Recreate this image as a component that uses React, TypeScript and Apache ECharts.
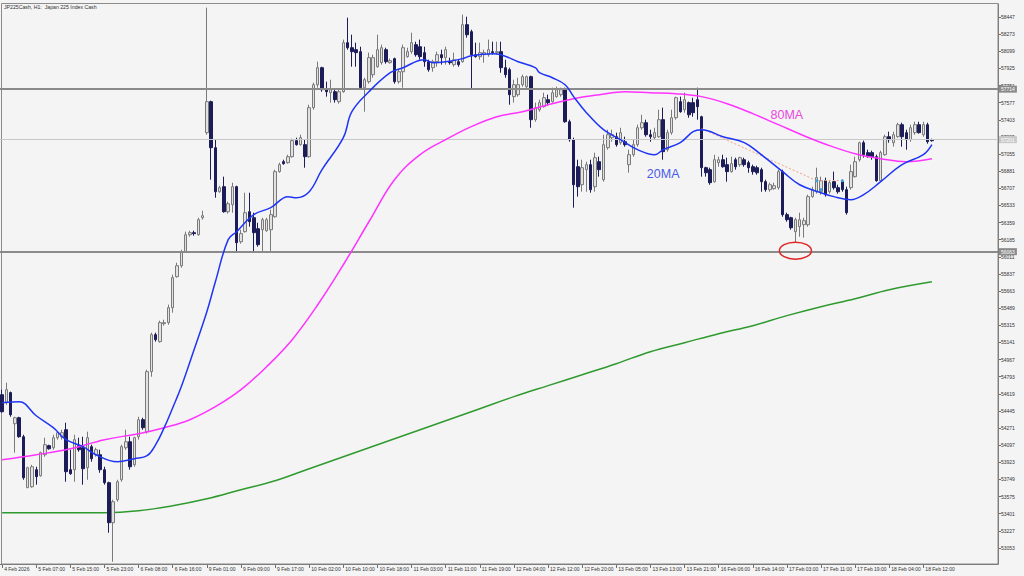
import React, { useEffect, useRef } from "react";
import * as echarts from "echarts";

const TITLE = "JP225Cash, H1:  Japan 225 Index Cash";

// x-axis tick labels, one every 8 hourly bars starting at bar 0
const tickLabels = [
  "4 Feb 2026", "5 Feb 07:00", "5 Feb 15:00", "5 Feb 23:00", "6 Feb 08:00", "6 Feb 16:00",
  "9 Feb 01:00", "9 Feb 09:00", "9 Feb 17:00", "10 Feb 02:00", "10 Feb 10:00", "10 Feb 18:00",
  "11 Feb 03:00", "11 Feb 11:00", "11 Feb 19:00", "12 Feb 04:00", "12 Feb 12:00", "12 Feb 20:00",
  "13 Feb 05:00", "13 Feb 13:00", "13 Feb 21:00", "16 Feb 06:00", "16 Feb 14:00", "17 Feb 03:00",
  "17 Feb 11:00", "17 Feb 19:00", "18 Feb 04:00", "18 Feb 12:00",
];
const TICK_EVERY = 8;
const EMPTY_BARS = 15;

// price-axis tick labels
const yTickValues = [
  53053, 53227, 53401, 53575, 53749, 53923, 54097, 54271, 54445, 54619, 54793, 54967,
  55141, 55315, 55489, 55663, 55837, 56011, 56185, 56359, 56533, 56707, 56881, 57055,
  57229, 57403, 57577, 57751, 57925, 58099, 58273, 58447,
];
const Y_MIN = 52890;
const Y_MAX = 58579;

// horizontal levels
const levelsDark = [57714, 56063];
const levelsLight = [57201];

// hourly candles: [open, close, low, high]
const candles = [
  [54610, 54437, 54427, 54661], [54529, 54661, 54508, 54732], [54631, 54406, 54386, 54641],
  [54315, 54376, 54021, 54386], [54376, 54183, 54173, 54386], [54183, 53767, 53746, 54203],
  [53665, 53868, 53665, 53878], [53675, 53878, 53665, 53898], [53848, 53777, 53696, 53878],
  [53787, 54021, 53777, 54031], [54000, 54102, 53980, 54173], [54092, 54061, 54051, 54102],
  [54071, 54173, 54051, 54203], [54173, 54224, 54153, 54234], [54183, 54224, 54153, 54254],
  [54254, 53828, 53726, 54325], [53848, 53807, 53797, 54051], [53848, 54153, 53726, 54203],
  [54092, 54051, 54031, 54173], [54071, 53858, 53696, 54183], [53868, 54173, 53746, 54234],
  [54082, 53960, 53929, 54102], [54000, 54051, 53980, 54071], [54000, 53848, 53817, 54051],
  [53848, 53716, 53696, 53878], [53716, 53310, 53208, 53726], [53310, 53523, 52913, 53543],
  [53543, 53726, 53523, 53746], [53746, 54082, 53726, 54102], [54071, 54132, 54051, 54254],
  [54132, 53878, 53848, 54183], [53898, 54173, 53878, 54183], [54183, 54356, 54153, 54386],
  [54356, 54275, 54254, 54376], [54234, 54844, 54214, 54864], [54844, 55220, 54793, 55240],
  [55220, 55169, 55149, 55240], [55149, 55342, 55139, 55362], [55332, 55342, 55311, 55372],
  [55342, 55494, 55321, 55525], [55494, 55799, 55443, 55829], [55809, 55920, 55799, 55951],
  [55920, 56063, 55900, 56083], [56063, 56235, 56053, 56266], [56235, 56256, 56215, 56276],
  [56256, 56246, 56225, 56276], [56235, 56388, 56225, 56408], [56408, 56428, 56388, 56479],
  [57272, 57587, 57251, 58542], [57587, 57119, 56794, 57597], [57119, 56672, 56611, 57201],
  [56672, 56713, 56662, 56733], [56723, 56469, 56459, 56825], [56469, 56550, 56449, 56571],
  [56540, 56723, 56459, 56764], [56723, 56154, 56063, 56733], [56164, 56246, 56144, 56286],
  [56266, 56459, 56256, 56662], [56469, 56367, 56317, 56662], [56408, 56256, 56053, 56459],
  [56296, 56134, 56114, 56357], [56286, 56388, 56053, 56408], [56276, 56388, 56266, 56408],
  [56286, 56439, 56053, 56489], [56418, 56876, 56408, 56896], [56876, 56947, 56865, 56967],
  [56977, 56957, 56947, 56997], [56967, 57028, 56957, 57048], [57028, 57191, 57018, 57211],
  [57191, 57150, 57140, 57221], [57150, 57221, 57140, 57251], [57150, 57028, 56916, 57201],
  [57028, 57526, 57018, 57556], [57526, 57759, 57505, 57780], [57759, 57932, 57729, 57993],
  [57932, 57709, 57688, 57942], [57709, 57688, 57638, 57790], [57678, 57709, 57577, 57810],
  [57688, 57607, 57577, 57709], [57587, 57688, 57566, 57709], [57688, 58186, 57678, 58217],
  [58186, 58135, 58115, 58440], [58135, 58095, 57942, 58267], [58115, 58085, 57942, 58186],
  [58095, 57729, 57709, 58145], [57729, 57810, 57485, 57830], [57790, 58034, 57770, 58085],
  [57861, 58034, 57830, 58064], [57942, 58115, 57932, 58267], [57983, 58135, 57963, 58166],
  [58115, 57993, 57973, 58135], [57983, 58003, 57973, 58024], [58024, 57790, 57770, 58034],
  [57790, 57891, 57770, 57912], [57891, 58135, 57729, 58166], [58044, 58095, 58034, 58135],
  [58095, 58186, 58074, 58288], [58166, 58064, 58044, 58196], [58145, 58044, 58013, 58217],
  [58085, 57993, 57942, 58145], [57993, 57912, 57891, 58013], [57932, 57993, 57891, 58013],
  [57993, 58064, 57942, 58095], [58064, 58034, 57963, 58115], [58034, 58115, 57963, 58145],
  [57993, 57983, 57963, 58034], [57963, 58013, 57942, 58085], [57993, 57963, 57942, 58013],
  [57993, 58369, 57983, 58471], [58369, 58267, 58237, 58450], [58298, 58064, 57709, 58318],
  [58064, 58044, 58034, 58186], [58044, 58085, 58013, 58186], [58064, 58085, 57983, 58115],
  [58064, 58115, 58044, 58217], [58095, 58085, 58064, 58196], [58085, 58095, 58064, 58196],
  [58095, 57932, 57881, 58196], [57932, 57861, 57830, 58013], [57912, 57658, 57556, 57932],
  [57638, 57759, 57577, 57810], [57658, 57759, 57638, 57830], [57759, 57841, 57739, 57861],
  [57739, 57841, 57709, 57851], [57841, 57404, 57322, 57851], [57404, 57526, 57383, 57577],
  [57505, 57577, 57485, 57607], [57536, 57627, 57526, 57678], [57607, 57577, 57546, 57658],
  [57587, 57678, 57577, 57729], [57638, 57709, 57627, 57739], [57658, 57709, 57638, 57729],
  [57709, 57383, 57373, 57729], [57383, 57201, 57180, 57404], [57201, 56743, 56510, 57221],
  [56926, 56723, 56622, 56997], [56743, 56916, 56672, 56997], [56896, 56947, 56672, 56977],
  [56947, 56693, 56662, 56997], [56723, 57018, 56672, 57069], [56977, 56896, 56825, 57028],
  [56794, 57150, 56774, 57251], [57119, 57251, 57099, 57302], [57221, 57251, 57180, 57302],
  [57231, 57150, 57130, 57272], [57170, 57272, 57150, 57322], [57180, 57150, 57130, 57231],
  [56947, 57048, 56865, 57099], [57048, 57150, 57028, 57201], [57150, 57322, 57130, 57353],
  [57322, 57373, 57302, 57454], [57373, 57251, 57231, 57404], [57251, 57231, 57180, 57302],
  [57221, 57272, 57201, 57322], [57231, 57404, 57221, 57505], [57404, 57079, 56997, 57526],
  [57099, 57272, 57079, 57302], [57272, 57424, 57251, 57505], [57424, 57627, 57404, 57638],
  [57587, 57485, 57475, 57638], [57505, 57607, 57475, 57678], [57577, 57454, 57424, 57587],
  [57577, 57475, 57434, 57627], [57607, 57536, 57404, 57729], [57434, 56916, 56825, 57444],
  [56916, 56865, 56825, 56926], [56896, 56764, 56743, 56916], [56774, 56997, 56764, 57048],
  [56967, 56997, 56926, 57028], [56997, 56926, 56916, 57048], [56947, 56876, 56774, 57018],
  [56876, 56957, 56865, 57028], [56997, 56926, 56896, 57018], [56947, 57018, 56926, 57028],
  [56997, 56947, 56926, 57018], [56967, 56916, 56865, 56987], [56926, 56876, 56845, 56947],
  [56916, 56865, 56845, 56936], [56896, 56774, 56672, 56916], [56774, 56693, 56672, 56794],
  [56693, 56743, 56672, 56764], [56703, 56733, 56693, 56764], [56713, 56876, 56693, 56896],
  [56876, 56439, 56418, 56896], [56439, 56388, 56367, 56459], [56408, 56306, 56286, 56418],
  [56266, 56388, 56154, 56408], [56317, 56388, 56215, 56459], [56337, 56378, 56205, 56408],
  [56337, 56622, 56317, 56642], [56622, 56693, 56611, 56723], [56672, 56815, 56652, 56916],
  [56672, 56784, 56642, 56825], [56784, 56642, 56622, 56815], [56672, 56764, 56652, 56784],
  [56774, 56713, 56693, 56876], [56713, 56672, 56652, 56743], [56774, 56693, 56672, 56794],
  [56693, 56459, 56439, 56723], [56713, 56876, 56693, 56947], [56825, 56977, 56815, 57028],
  [56997, 57170, 56977, 57180], [57170, 57048, 57018, 57191], [57069, 57028, 57018, 57099],
  [57069, 57028, 56997, 57089], [57028, 56784, 56774, 57048], [56784, 57069, 56774, 57089],
  [57048, 57231, 57038, 57251], [57231, 57201, 57170, 57282], [57170, 57251, 57130, 57282],
  [57231, 57353, 57221, 57373], [57353, 57231, 57130, 57373], [57272, 57201, 57099, 57302],
  [57201, 57322, 57180, 57353], [57272, 57353, 57251, 57383], [57353, 57272, 57262, 57383],
  [57251, 57353, 57231, 57383], [57353, 57180, 57160, 57373], [57201, 57191, 57180, 57211],
];

// moving averages read at sample bars: [bar index, value]
const ma20 = [
  [0, 54529], [4, 54539], [8, 54396], [12, 54275], [15, 54153], [19, 54082], [22, 54000],
  [27, 53929], [31, 53960], [34, 53990], [36, 54102], [38, 54275], [40, 54478], [42, 54691],
  [45, 55067], [48, 55453], [50, 55758], [53, 56185], [55, 56266], [59, 56439], [63, 56510],
  [67, 56622], [69, 56611], [72, 56672], [75, 56896], [80, 57221], [82, 57485], [86, 57688],
  [91, 57881], [94, 57932], [99, 58013], [101, 57983], [104, 57993], [108, 58024], [110, 58054],
  [115, 58074], [117, 58064], [121, 57993], [125, 57932], [126, 57881], [129, 57830],
  [132, 57759], [134, 57638], [137, 57475], [141, 57302], [145, 57201], [149, 57099],
  [153, 57048], [155, 57099], [159, 57170], [162, 57282], [164, 57302], [169, 57231],
  [174, 57170], [178, 57048], [183, 56876], [187, 56743], [192, 56662], [195, 56622],
  [199, 56591], [202, 56642], [206, 56774], [211, 56947], [216, 57048], [218, 57150],
];
const ma80 = [
  [0, 53949], [8, 54000], [16, 54061], [24, 54153], [32, 54214], [38, 54275], [44, 54356],
  [50, 54488], [56, 54661], [62, 54894], [68, 55169], [74, 55524], [80, 55930], [86, 56367],
  [92, 56794], [98, 57048], [104, 57201], [110, 57333], [116, 57434], [122, 57485],
  [128, 57556], [134, 57617], [140, 57658], [146, 57688], [152, 57678], [158, 57668],
  [164, 57638], [170, 57566], [176, 57465], [182, 57353], [188, 57241], [194, 57140],
  [200, 57058], [206, 57008], [212, 56977], [218, 57008],
];
const ma200 = [
  [0, 53411], [24, 53411], [32, 53431], [40, 53482], [48, 53553], [56, 53645], [64, 53736],
  [72, 53858], [80, 53980], [88, 54102], [96, 54224], [104, 54346], [112, 54468], [120, 54590],
  [128, 54702], [136, 54813], [144, 54925], [152, 55047], [160, 55138], [168, 55230],
  [176, 55311], [184, 55413], [192, 55504], [200, 55585], [208, 55677], [218, 55758],
];

// annotations (bar index, price)
const trendLine = [[164, 57312], [191, 56784]];
const trendLine2 = [[191, 56784], [197, 56784]];
const trendDots = [[191, 56784], [192, 56693], [197, 56784]];
const lowMarker = [186, 56073];
const label20 = { text: "20MA", bar: 155, price: 56855 };
const label80 = { text: "80MA", bar: 184, price: 57455 };

const FONT = "'Liberation Sans', Arial, sans-serif";

export default function App() {
  const ref = useRef<HTMLDivElement>(null);
  useEffect(() => {
    const chart = echarts.init(ref.current!, null, { renderer: "svg" });
    const nCat = candles.length + EMPTY_BARS;
    const cats = Array.from({ length: nCat }, (_, i) => String(i));
    const isTick = (i: number) => i % TICK_EVERY === 0 && i / TICK_EVERY < tickLabels.length;

    const levelLine = (v: number, dark: boolean) => ({
      yAxis: v,
      lineStyle: { color: dark ? "#8a8a8a" : "#c8c8c8", width: dark ? 2 : 1, type: "solid" },
      label: {
        show: true,
        position: "end",
        distance: 1,
        formatter: String(v),
        fontSize: 5,
        fontFamily: FONT,
        color: "#ffffff",
        backgroundColor: dark ? "#8a8a8a" : "#c8c8c8",
        padding: [1, 2],
      },
    });

    chart.setOption({
      animation: false,
      backgroundColor: "#f4f4f4",
      textStyle: { fontFamily: FONT },
      grid: { left: -1, right: 26, top: 4, bottom: 12 },
      xAxis: {
        type: "category",
        data: cats,
        boundaryGap: true,
        axisLine: { lineStyle: { color: "#6e6e6e", width: 1 } },
        axisTick: {
          show: true,
          alignWithLabel: true,
          interval: (i: number) => isTick(i),
          length: 4,
          lineStyle: { color: "#6e6e6e" },
        },
        axisLabel: {
          interval: (i: number) => isTick(i),
          formatter: (v: string) => tickLabels[Number(v) / TICK_EVERY] ?? "",
          fontSize: 5,
          color: "#333333",
          align: "left",
          margin: 2,
          padding: [0, 0, 0, 2],
        },
        splitLine: { show: false },
      },
      yAxis: {
        type: "value",
        position: "right",
        min: Y_MIN,
        max: Y_MAX,
        axisLine: { show: true, lineStyle: { color: "#6e6e6e" } },
        axisTick: { show: true, customValues: yTickValues, length: 3, lineStyle: { color: "#6e6e6e" } },
        axisLabel: {
          customValues: yTickValues,
          fontSize: 5,
          color: "#333333",
          margin: 3,
          formatter: (v: number) => String(v),
        },
        splitLine: { show: false },
      },
      series: [
        {
          type: "line",
          name: "MA200",
          data: ma200,
          smooth: 0.4,
          symbol: "none",
          lineStyle: { color: "#2e9a2e", width: 1.5 },
          z: 3,
        },
        {
          type: "candlestick",
          data: candles,
          barWidth: 3,
          itemStyle: {
            color: "#e2e2e2",
            borderColor: "#7a7a7a",
            color0: "#1c1c58",
            borderColor0: "#1c1c58",
            borderWidth: 1,
          },
          z: 4,
          markLine: {
            symbol: "none",
            silent: true,
            animation: false,
            data: [
              ...levelsDark.map((v) => levelLine(v, true)),
              ...levelsLight.map((v) => levelLine(v, false)),
              [
                { coord: trendLine[0], lineStyle: { color: "#f2a07e", width: 1, type: [2, 2] }, label: { show: false } },
                { coord: trendLine[1] },
              ],
              [
                { coord: trendLine2[0], lineStyle: { color: "#f2a07e", width: 1, type: [2, 2] }, label: { show: false } },
                { coord: trendLine2[1] },
              ],
            ],
          },
          markPoint: {
            silent: true,
            animation: false,
            data: trendDots.map((p) => ({
              coord: p,
              symbol: "circle",
              symbolSize: 3,
              itemStyle: { color: "#3aa0e0" },
              label: { show: false },
            })),
          },
        },
        {
          type: "line",
          name: "MA80",
          data: ma80,
          smooth: 0.4,
          symbol: "none",
          lineStyle: { color: "#ff33ff", width: 1.5 },
          z: 5,
        },
        {
          type: "line",
          name: "MA20",
          data: ma20,
          smooth: 0.4,
          symbol: "none",
          lineStyle: { color: "#1f35f5", width: 1.5 },
          z: 6,
        },
      ],
    });

    const px = (bar: number, price: number) =>
      chart.convertToPixel({ gridIndex: 0 }, [bar, price]) as number[];
    const low = px(lowMarker[0], lowMarker[1]);
    const l20 = px(label20.bar, label20.price);
    const l80 = px(label80.bar, label80.price);

    chart.setOption({
      graphic: [
        {
          type: "rect",
          shape: { x: 1.5, y: 3.5, width: 996.5, height: 560.5 },
          style: { fill: "none", stroke: "#8c8c8c", lineWidth: 1 },
          silent: true,
          z: 1,
        },
        {
          type: "text",
          x: 4,
          y: 4,
          style: { text: TITLE, fontSize: 5.2, fontFamily: FONT, fill: "#333333" },
          z: 10,
        },
        {
          type: "ellipse",
          shape: { cx: low[0], cy: low[1], rx: 16, ry: 8.5 },
          style: { fill: "none", stroke: "#e02424", lineWidth: 1.5 },
          z: 10,
        },
        {
          type: "text",
          x: l20[0],
          y: l20[1],
          style: {
            text: label20.text,
            fontSize: 12.5,
            fontFamily: FONT,
            fill: "#4a5ae8",
            align: "center",
            verticalAlign: "middle",
          },
          z: 10,
        },
        {
          type: "text",
          x: l80[0],
          y: l80[1],
          style: {
            text: label80.text,
            fontSize: 12.5,
            fontFamily: FONT,
            fill: "#e848e0",
            align: "center",
            verticalAlign: "middle",
          },
          z: 10,
        },
      ],
    });

    return () => chart.dispose();
  }, []);

  return (
    <div
      ref={ref}
      style={{ position: "fixed", left: 0, top: 0, width: 1024, height: 576, background: "#f4f4f4" }}
    />
  );
}
